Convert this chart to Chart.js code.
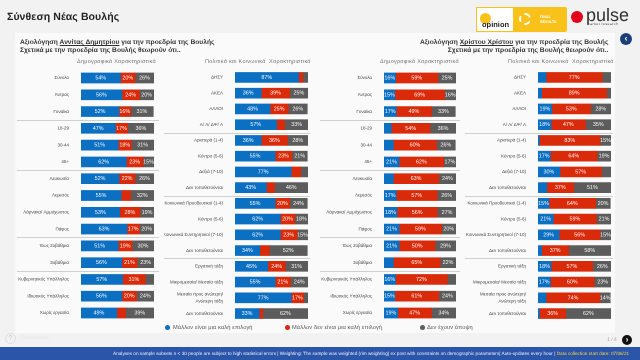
<!DOCTYPE html>
<html lang="el">
<head>
<meta charset="utf-8">
<title>Σύνθεση Νέας Βουλής</title>
<script src="https://cdn.jsdelivr.net/npm/chart.js@4"></script>
<style>
  html, body { margin: 0; padding: 0; }
  body { position: relative; width: 640px; height: 360px; overflow: hidden; background: #f2f2f2; font-family: "Liberation Sans", Arial, sans-serif; color: #333; text-rendering: geometricPrecision; }
  .abs { position: absolute; white-space: nowrap; will-change: transform; }
  canvas { position: absolute; top: 62px; }
  #panel { position: absolute; left: 15px; top: 33px; width: 600px; height: 300px; background: #fafafa; }
  #pageTitle { left: 7px; top: 11px; font-size: 10.5px; font-weight: bold; color: #222; letter-spacing: .1px; }
  .heading { font-size: 6.7px; font-weight: bold; line-height: 8.2px; color: #333; top: 38.5px; }
  .heading u { font-weight: bold; }
  .colHead { top: 58.5px; font-size: 5.5px; color: #777; letter-spacing: .25px; }
  .legendItem { top: 324.5px; font-size: 5.7px; color: #555; letter-spacing: .1px; }
  .dot { position: absolute; width: 5px; height: 5px; border-radius: 50%; top: 325px; }
  #footer { position: absolute; left: 0; top: 347px; width: 640px; height: 13px; background: #2a55a8; }
  #footerText { left: 113px; top: 350.5px; font-size: 4.7px; color: #e8eefa; }
  #footerText span { color: #f5d547; }
</style>
</head>
<body>
<div id="panel"></div>
<div id="pageTitle" class="abs">Σύνθεση Νέας Βουλής</div>

<!-- logos -->
<div class="abs" style="left:476px;top:7px;width:38px;height:25px;background:#fff;border:1px solid #f8c21b;box-sizing:border-box;"></div>
<div class="abs" style="left:514px;top:7px;width:53px;height:25px;background:#f8c21b;border-radius:0 2px 2px 0;"></div>
<div class="abs" style="left:480px;top:13px;width:11px;height:11px;border-radius:50%;background:#f8c21b;"></div>
<div class="abs" style="left:482px;top:19.5px;font-size:7.5px;font-weight:bold;color:#222;">opinion</div>
<div class="abs" style="left:519px;top:13px;width:12px;height:12px;border-radius:50%;border:2px dashed #fff;box-sizing:border-box;background:#f8c21b;"></div>
<div class="abs" style="left:540px;top:15px;font-size:3.6px;line-height:5px;font-weight:bold;color:#fff;">FINAL<br>RESULTS</div>
<div class="abs" style="left:571px;top:11px;width:12px;height:12px;border-radius:50%;background:#e2001a;"></div>
<div class="abs" style="left:586px;top:5px;font-size:18px;color:#333;">pulse</div>
<div class="abs" style="left:587px;top:22px;font-size:3.3px;color:#444;letter-spacing:.5px;">market research</div>

<!-- headings -->
<div class="abs heading" style="left:20px;">Αξιολόγηση <u>Αννίτας Δημητρίου</u> για την προεδρία της Βουλής<br>Σχετικά με την προεδρία της Βουλής θεωρούν ότι..</div>
<div class="abs heading" style="right:32px;text-align:right;">Αξιολόγηση <u>Χρίστου Χρίστου</u> για την προεδρία της Βουλής<br>Σχετικά με την προεδρία της Βουλής θεωρούν ότι..</div>
<div class="abs colHead" style="left:77px;">Δημογραφικά Χαρακτηριστικά</div>
<div class="abs colHead" style="left:205px;">Πολιτικά και Κοινωνικά&nbsp; Χαρακτηριστικά</div>
<div class="abs colHead" style="left:380px;">Δημογραφικά Χαρακτηριστικά</div>
<div class="abs colHead" style="left:508px;">Πολιτικά και Κοινωνικά&nbsp; Χαρακτηριστικά</div>

<canvas id="annitaDemo" width="142" height="267" style="left:17px"></canvas>
<canvas id="annitaPol" width="146" height="267" style="left:164px"></canvas>
<canvas id="christosDemo" width="140" height="267" style="left:320px"></canvas>
<canvas id="christosPol" width="148" height="267" style="left:465px"></canvas>

<!-- legend -->
<div class="dot" style="left:164.5px;background:#0b6fc2"></div>
<div class="abs legendItem" style="left:173px">Μάλλον είναι μια καλή επιλογή</div>
<div class="dot" style="left:284.5px;background:#d92a0a"></div>
<div class="abs legendItem" style="left:292px">Μάλλον δεν είναι μια καλή επιλογή</div>
<div class="dot" style="left:419.5px;background:#5c5c5c"></div>
<div class="abs legendItem" style="left:427px">Δεν έχουν άποψη</div>

<!-- nav and footer bits -->
<div class="abs" style="left:5px;top:333px;width:11px;height:11px;border-radius:50%;border:1px solid #ddd;box-sizing:border-box;font-size:7px;line-height:9px;text-align:center;color:#ccc;">?</div>
<div class="abs" style="left:20px;top:335px;font-size:5px;color:#e6e6e6;">Πληροφορίες</div>
<div class="abs" style="left:607px;top:337px;font-size:5px;color:#999;">1 / 4</div>
<div class="abs" style="left:621.5px;top:335px;width:10px;height:10px;border-radius:50%;background:#111;color:#fff;font-size:8px;line-height:9px;text-align:center;font-weight:bold;">›</div>
<div class="abs" style="left:619.5px;top:33px;width:12px;height:12px;border-radius:50%;background:#1c3f7a;color:#fff;font-size:9px;line-height:11px;text-align:center;font-weight:bold;">‹</div>
<div id="footer"></div>
<div id="footerText" class="abs">Analyses on sample subsets n &lt; 30 people are subject to high statistical errors | Weighting: The sample was weighted (rim weighting) ex post with constraints on demographic parameters| Auto-updates every hour | <span>Data collection start date: 07/06/21</span></div>

<script>
const demoLabels = ['Σύνολο', 'Άντρας', 'Γυναίκα', '18-29', '30-44', '45+', 'Λευκωσία', 'Λεμεσός', 'Λάρνακα/ Αμμόχωστος', 'Πάφος', 'Έως 2οβάθμια', '3οβάθμια', 'Κυβερνητικός Υπάλληλος', 'Ιδιωτικός Υπάλληλος', 'Χωρίς εργασία'];
const polLabels = ['ΔΗΣΥ', 'ΑΚΕΛ', 'ΑΛΛΟΙ', 'Α/ Λ/ ΔΨ/ Α', 'Αριστερά (1-4)', 'Κέντρο (5-6)', 'Δεξιά (7-10)', 'Δεν τοποθετούνται', 'Κοινωνικά Προοδευτικοί (1-4)', 'Κέντρο (5-6)', 'Κοινωνικά Συντηρητικοί (7-10)', 'Δεν τοποθετούνται', 'Εργατική τάξη', 'Μικρομεσαία/ Μεσαία τάξη', ['Μεσαία προς ανώτερη/', 'Ανώτερη τάξη'], 'Δεν τοποθετούνται'];

// row index after which a divider line is drawn
const demoBreaks = [2, 5, 9, 11];
const polBreaks = [3, 7, 11];

const annitaDemoGood = [54, 56, 52, 47, 51, 62, 52, 55, 53, 63, 51, 56, 57, 56, 49];
const annitaDemoBad = [20, 24, 16, 17, 18, 23, 22, 13, 28, 17, 19, 21, 31, 20, 12];
const annitaDemoNone = [26, 20, 31, 36, 31, 15, 26, 32, 19, 20, 30, 23, 12, 24, 39];

const annitaPolGood = [87, 36, 48, 57, 36, 55, 77, 43, 55, 62, 62, 34, 45, 55, 77, 33];
const annitaPolBad = [6, 39, 25, 11, 36, 23, 13, 11, 20, 20, 23, 13, 24, 21, 17, 5];
const annitaPolNone = [7, 25, 26, 33, 28, 21, 10, 46, 24, 18, 15, 52, 31, 24, 6, 62];

const christosDemoGood = [16, 15, 17, 10, 13, 21, 13, 17, 18, 21, 21, 13, 16, 15, 19];
const christosDemoBad = [59, 69, 49, 54, 60, 62, 63, 57, 56, 59, 50, 65, 72, 61, 47];
const christosDemoNone = [25, 16, 33, 36, 26, 17, 24, 26, 27, 20, 29, 22, 12, 24, 34];

const christosPolGood = [11, 5, 19, 18, 2, 17, 30, 12, 15, 21, 29, 5, 18, 17, 11, 2];
const christosPolBad = [77, 89, 53, 47, 83, 64, 57, 37, 64, 59, 56, 37, 57, 60, 74, 36];
const christosPolNone = [12, 6, 28, 35, 15, 19, 13, 51, 20, 21, 15, 58, 26, 23, 14, 62];

const seriesNames = ['Μάλλον είναι μια καλή επιλογή', 'Μάλλον δεν είναι μια καλή επιλογή', 'Δεν έχουν άποψη'];
const seriesColors = ['#0b6fc2', '#d92a0a', '#5c5c5c'];
const minLabelValue = 14;

// white percentages inside the bars, small segments stay empty
const barValues = {
  id: 'barValues',
  afterDatasetsDraw(chart) {
    const { ctx } = chart;
    ctx.save();
    ctx.font = '5.4px "Liberation Sans", Arial, sans-serif';
    ctx.fillStyle = '#fff';
    ctx.textAlign = 'center';
    ctx.textBaseline = 'middle';
    chart.data.datasets.forEach((ds, d) => {
      chart.getDatasetMeta(d).data.forEach((bar, i) => {
        if (ds.data[i] < minLabelValue) return;
        const { x, y } = bar.getCenterPoint();
        ctx.fillText(ds.data[i] + '%', x, y);
      });
    });
    ctx.restore();
  },
};

const groupLines = {
  id: 'groupLines',
  afterDraw(chart, args, opts) {
    const { ctx, scales } = chart;
    ctx.save();
    ctx.strokeStyle = '#cfcfcf';
    ctx.lineWidth = 1;
    opts.breaks.forEach(i => {
      const y = Math.round((scales.y.getPixelForValue(i) + scales.y.getPixelForValue(i + 1)) / 2) + 0.5;
      ctx.beginPath();
      ctx.moveTo(0, y);
      ctx.lineTo(chart.width, y);
      ctx.stroke();
    });
    ctx.restore();
  },
};

function drawPanel(id, labels, breaks, good, bad, none, axisWidth, rightGap) {
  new Chart(document.getElementById(id), {
    type: 'bar',
    data: {
      labels: labels,
      datasets: [good, bad, none].map((values, s) => ({
        label: seriesNames[s],
        data: values,
        backgroundColor: seriesColors[s],
        barThickness: 10,
        borderWidth: 0,
      })),
    },
    options: {
      indexAxis: 'y',
      responsive: false,
      devicePixelRatio: 2, // small tick text keeps its true width when drawn at 2x
      animation: false,
      layout: { autoPadding: false, padding: { right: rightGap, top: 0, bottom: 0, left: 0 } },
      plugins: {
        legend: { display: false },
        tooltip: { enabled: false },
        groupLines: { breaks: breaks },
      },
      scales: {
        x: { stacked: true, min: 0, max: 100, display: false },
        y: {
          stacked: true,
          grid: { display: false },
          border: { display: false },
          afterFit(scale) { scale.width = axisWidth; },
          ticks: {
            autoSkip: false,
            padding: 4,
            color: '#444',
            font: { family: '"Liberation Sans", Arial, sans-serif', size: 4.5, lineHeight: 1.6 },
          },
        },
      },
    },
    plugins: [barValues, groupLines],
  });
}

drawPanel('annitaDemo', demoLabels, demoBreaks, annitaDemoGood, annitaDemoBad, annitaDemoNone, 64, 5);
drawPanel('annitaPol', polLabels, polBreaks, annitaPolGood, annitaPolBad, annitaPolNone, 71, 2);
drawPanel('christosDemo', demoLabels, demoBreaks, christosDemoGood, christosDemoBad, christosDemoNone, 64, 4);
drawPanel('christosPol', polLabels, polBreaks, christosPolGood, christosPolBad, christosPolNone, 73, 2);
</script>
</body>
</html>
